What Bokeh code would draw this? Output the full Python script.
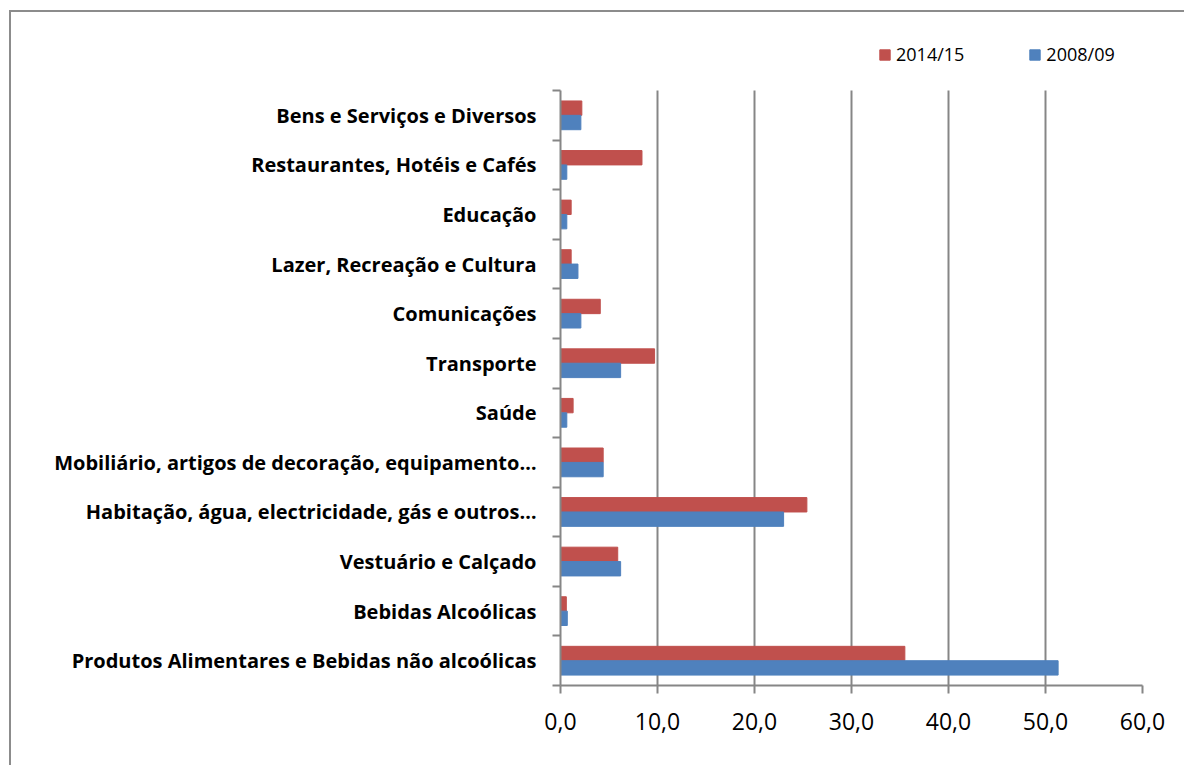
import numpy as np
from bokeh.plotting import figure
from bokeh.models import Range1d, FixedTicker, Legend, LegendItem
from bokeh.embed import file_html
from bokeh.resources import INLINE

# ---- data (top-to-bottom as in the chart) ----
categories = [
    "Bens e Serviços e Diversos",
    "Restaurantes, Hotéis e Cafés",
    "Educação",
    "Lazer, Recreação e Cultura",
    "Comunicações",
    "Transporte",
    "Saúde",
    "Mobiliário, artigos de decoração, equipamento…",
    "Habitação, água, electricidade, gás e outros…",
    "Vestuário e Calçado",
    "Bebidas Alcoólicas",
    "Produtos Alimentares e Bebidas não alcoólicas",
]
v_2014_15 = [2.2, 8.4, 1.1, 1.1, 4.1, 9.7, 1.3, 4.4, 25.4, 5.9, 0.6, 35.5]
v_2008_09 = [2.1, 0.65, 0.65, 1.8, 2.1, 6.2, 0.65, 4.4, 23.0, 6.2, 0.7, 51.3]
x_ticks = [0, 10, 20, 30, 40, 50, 60]
x_tick_labels = ["0,0", "10,0", "20,0", "30,0", "40,0", "50,0", "60,0"]
series_names = ["2014/15", "2008/09"]

RED = "#C0504D"
BLUE = "#4F81BD"
GRAY = "#868686"
FONT = "Open Sans"

n = len(categories)
ycen = np.arange(n)[::-1].astype(float)  # top category gets highest y
y_lo, y_hi = -0.5, n - 0.5
headroom = 1.09  # space above the categories for the legend

p = figure(width=1175, height=755, x_range=Range1d(0, 60), y_range=Range1d(y_lo, y_hi + headroom),
           output_backend="svg", toolbar_location=None,
           min_border_left=549, min_border_right=44, min_border_top=24, min_border_bottom=82)
p.styles = {"margin-left": "9px", "margin-top": "10px",
            "border-left": "2px solid #8c8c8c", "border-top": "2px solid #8c8c8c"}
p.outline_line_color = None
p.background_fill_color = "white"
p.border_fill_color = "white"

r1 = p.hbar(y=ycen + 0.145, right=v_2014_15, left=0, height=0.29,
            fill_color=RED, line_color=RED)
r2 = p.hbar(y=ycen - 0.145, right=v_2008_09, left=0, height=0.29,
            fill_color=BLUE, line_color=BLUE)

# x axis
xt = FixedTicker(ticks=x_ticks)
p.xaxis.ticker = xt
p.xaxis.major_label_overrides = {t: l for t, l in zip(x_ticks, x_tick_labels)}
p.xaxis.axis_line_color = GRAY
p.xaxis.axis_line_width = 2
p.xaxis.major_tick_line_color = GRAY
p.xaxis.major_tick_line_width = 2
p.xaxis.major_tick_out = 8
p.xaxis.major_tick_in = 0
p.xaxis.minor_tick_line_color = None
p.xaxis.major_label_text_font = FONT
p.xaxis.major_label_text_font_size = "23px"
p.xaxis.major_label_text_color = "black"
p.xaxis.major_label_standoff = 19
p.xgrid.ticker = xt
p.xgrid.grid_line_color = GRAY
p.xgrid.grid_line_width = 2
p.xgrid.cross_bounds = (y_lo, y_hi)

# y axis (labels at centres, ticks at boundaries)
yt = FixedTicker(ticks=list(range(n)), minor_ticks=[i - 0.5 for i in range(n + 1)])
p.yaxis.ticker = yt
p.yaxis.bounds = (y_lo, y_hi)
p.yaxis.major_label_overrides = {int(y): c for y, c in zip(ycen, categories)}
p.yaxis.axis_line_color = GRAY
p.yaxis.axis_line_width = 2
p.yaxis.major_tick_line_color = None
p.yaxis.major_tick_out = 0
p.yaxis.major_tick_in = 0
p.yaxis.minor_tick_line_color = GRAY
p.yaxis.minor_tick_line_width = 2
p.yaxis.minor_tick_out = 8
p.yaxis.minor_tick_in = 0
p.yaxis.major_label_text_font = FONT
p.yaxis.major_label_text_font_style = "bold"
p.yaxis.major_label_text_font_size = "20px"
p.yaxis.major_label_text_color = "black"
p.yaxis.major_label_standoff = 16
p.ygrid.grid_line_color = None

# legend
lg = Legend(items=[LegendItem(label=series_names[0], renderers=[r1]),
                   LegendItem(label=series_names[1], renderers=[r2])],
            location=(318, 619), orientation="horizontal", spacing=64,
            glyph_width=13, glyph_height=13, label_standoff=5, padding=0, margin=0,
            border_line_color=None, background_fill_alpha=0,
            label_text_font=FONT, label_text_font_size="18px", label_text_color="black")
p.add_layout(lg, "center")

open("out.html", "w").write(file_html(p, INLINE))
